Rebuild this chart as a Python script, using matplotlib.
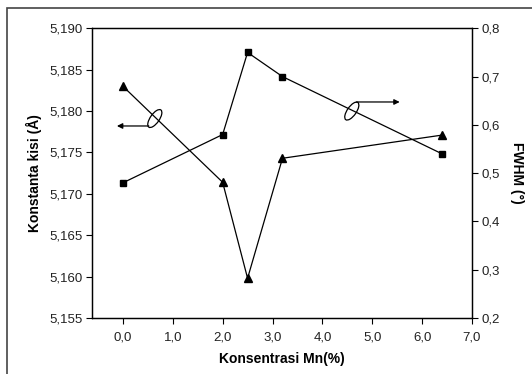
import matplotlib
matplotlib.use("Agg")
import matplotlib.pyplot as plt
import matplotlib.transforms as transforms
from matplotlib.patches import Ellipse, Rectangle
from matplotlib.ticker import FuncFormatter

plt.rcParams['font.family'] = ['Liberation Sans', 'DejaVu Sans']

# data
mn_conc = [0.0, 2.0, 2.5, 3.2, 6.4]
lattice = [5.1830, 5.1714, 5.1598, 5.1743, 5.1771]   # left axis, triangles
fwhm = [0.48, 0.58, 0.75, 0.70, 0.54]                 # right axis, squares

x_ticks = [0, 1, 2, 3, 4, 5, 6, 7]
left_ticks = [5.155, 5.160, 5.165, 5.170, 5.175, 5.180, 5.185, 5.190]
right_ticks = [0.2, 0.3, 0.4, 0.5, 0.6, 0.7, 0.8]

fig = plt.figure(figsize=(5.32, 3.74), dpi=100)
ax = fig.add_axes([0.1729, 0.1497, 0.7143, 0.7746])
ax2 = ax.twinx()

ax.plot(mn_conc, lattice, color='black', lw=0.9, marker='^', ms=5.5, zorder=3)
ax2.plot(mn_conc, fwhm, color='black', lw=0.9, marker='s', ms=4.5, zorder=3)

ax.set_xlim(-0.62, 7.0)
ax.set_ylim(5.155, 5.190)
ax2.set_ylim(0.2, 0.8)
ax.set_xticks(x_ticks)
ax.set_yticks(left_ticks)
ax2.set_yticks(right_ticks)

comma = lambda fmt: FuncFormatter(lambda v, p: (fmt % v).replace('.', ','))
ax.xaxis.set_major_formatter(comma('%.1f'))
ax.yaxis.set_major_formatter(comma('%.3f'))
ax2.yaxis.set_major_formatter(comma('%.1f'))

for a in (ax, ax2):
    a.tick_params(direction='out', length=4, width=0.8, labelsize=9.5, pad=3,
                  colors='black', labelcolor='#222222')
    for s in a.spines.values():
        s.set_linewidth(0.9)
ax.tick_params(axis='x', pad=6)

ax.set_xlabel('Konsentrasi Mn(%)', fontsize=10, fontweight='bold', labelpad=6)
ax.set_ylabel('Konstanta kisi (Å)', fontsize=10, fontweight='bold', labelpad=5)
ax2.set_ylabel('FWHM (°)', fontsize=10, fontweight='bold', rotation=270, labelpad=17)

# arrows with ellipses marking which axis each series belongs to
ax.annotate('', xy=(-0.12, 5.1782), xytext=(0.52, 5.1782),
            arrowprops=dict(arrowstyle='-|>', color='black', lw=0.9,
                            mutation_scale=8, shrinkA=0, shrinkB=0))
ax.annotate('', xy=(5.55, 5.1811), xytext=(4.68, 5.1811),
            arrowprops=dict(arrowstyle='-|>', color='black', lw=0.9,
                            mutation_scale=8, shrinkA=0, shrinkB=0))
for ex, ey in [(0.64, 5.1791), (4.59, 5.1800)]:
    tr = fig.dpi_scale_trans + transforms.ScaledTranslation(ex, ey, ax.transData)
    ax.add_patch(Ellipse((0, 0), 0.21, 0.09, angle=55, fill=False,
                         edgecolor='black', lw=0.9, transform=tr, zorder=4))

# outer frame of the original figure
fig.patches.append(Rectangle((7.0 / 532, -0.1), 1.2, 1 - 8.3 / 374 + 0.1,
                             transform=fig.transFigure, fill=False,
                             edgecolor='#444444', lw=1.2))

fig.savefig('out.png', dpi=100)
